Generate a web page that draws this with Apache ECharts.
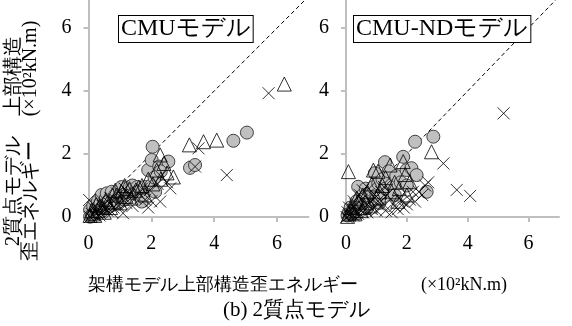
<!DOCTYPE html>
<html>
<head>
<meta charset="utf-8">
<script src="https://cdn.jsdelivr.net/npm/echarts@6.0.0/dist/echarts.min.js"></script>
<style>
  html, body { margin: 0; padding: 0; background: #fff; }
  #chart { width: 572px; height: 326px; }
</style>
</head>
<body>
<div id="chart"></div>
<script>
// 軸目盛
const axisTicks = [0, 2, 4, 6];
const refLine = [[0, 0], [7, 7]];

// CMUモデル（左）
const cmuCircles = [
  [0.05, 0.01], [0.05, 0.22], [0.12, 0.08], [0.15, 0.35], [0.2, 0.12], [0.25, 0.3],
  [0.3, 0.15], [0.3, 0.5], [0.38, 0.45], [0.42, 0.7], [0.45, 0.2], [0.5, 0.3],
  [0.55, 0.6], [0.58, 0.75], [0.65, 0.5], [0.7, 0.35], [0.74, 0.8], [0.8, 0.6],
  [0.85, 0.7], [0.9, 0.55], [0.95, 0.43], [1.0, 0.85], [1.05, 0.95], [1.1, 0.7],
  [1.15, 0.55], [1.2, 0.9], [1.25, 0.8], [1.32, 0.96], [1.4, 1.0], [1.45, 0.75],
  [1.55, 0.95], [1.59, 0.8], [1.69, 0.49], [1.75, 0.7], [1.8, 0.95], [1.9, 1.49],
  [2.0, 1.0], [2.01, 1.81], [2.04, 2.23], [2.1, 1.25], [2.12, 0.8], [2.25, 1.6],
  [2.3, 1.45], [2.54, 1.76], [3.23, 1.56], [3.39, 1.65], [4.61, 2.42], [5.04, 2.68]
];
const cmuTriangles = [
  [0.05, 0.05], [0.1, 0.2], [0.15, 0.1], [0.2, 0.05], [0.25, 0.4], [0.3, 0.2],
  [0.35, 0.35], [0.45, 0.3], [0.5, 0.15], [0.55, 0.55], [0.6, 0.45], [0.7, 0.3],
  [0.8, 0.5], [0.85, 0.85], [0.9, 0.7], [1.0, 0.45], [1.05, 0.8], [1.15, 1.0],
  [1.2, 0.65], [1.3, 0.9], [1.35, 0.6], [1.5, 0.85], [1.6, 0.95], [1.7, 1.0],
  [1.8, 0.7], [1.9, 1.2], [2.05, 1.05], [2.17, 1.49], [2.28, 1.97], [2.3, 1.2],
  [2.4, 1.7], [2.5, 1.4], [2.7, 1.27], [3.21, 2.29], [3.66, 2.39], [4.08, 2.44],
  [6.23, 4.22]
];
const cmuCrosses = [
  [0.02, 0.54], [0.05, 0.0], [0.1, 0.1], [0.15, 0.3], [0.2, 0.05], [0.25, 0.15],
  [0.3, 0.25], [0.35, 0.05], [0.37, 0.12], [0.4, 0.55], [0.45, 0.35], [0.5, 0.4],
  [0.55, 0.25], [0.6, 0.2], [0.65, 0.45], [0.7, 0.6], [0.75, 0.15], [0.8, 0.3],
  [0.85, 0.55], [0.9, 0.75], [0.95, 0.35], [1.0, 0.5], [1.05, 0.7], [1.1, 0.12],
  [1.15, 0.9], [1.2, 0.45], [1.25, 0.8], [1.3, 0.7], [1.4, 0.35], [1.5, 0.6],
  [1.6, 0.75], [1.7, 0.9], [1.8, 0.55], [1.9, 0.3], [1.95, 0.85], [2.0, 0.5],
  [2.2, 1.05], [2.28, 0.49], [2.3, 1.3], [2.5, 1.1], [2.6, 0.91], [3.39, 1.6],
  [3.5, 2.18], [4.4, 1.33], [5.73, 3.93]
];

// CMU-NDモデル（右）
const ndCircles = [
  [0.05, 0.05], [0.1, 0.15], [0.15, 0.3], [0.2, 0.1], [0.25, 0.2], [0.3, 0.3],
  [0.35, 0.5], [0.4, 0.96], [0.45, 0.25], [0.5, 0.4], [0.55, 0.7], [0.6, 0.6],
  [0.65, 0.9], [0.7, 0.3], [0.75, 0.5], [0.8, 0.8], [0.9, 0.95], [0.95, 1.39],
  [1.0, 0.7], [1.06, 1.07], [1.1, 0.45], [1.1, 0.6], [1.2, 1.2], [1.28, 1.74],
  [1.3, 0.9], [1.4, 1.45], [1.5, 1.02], [1.6, 0.7], [1.65, 1.3], [1.8, 1.1],
  [1.88, 1.91], [1.99, 1.49], [2.0, 1.0], [2.15, 1.55], [2.27, 2.39], [2.32, 1.33],
  [2.65, 0.8], [2.87, 2.55]
];
const ndTriangles = [
  [0.05, 0.02], [0.08, 1.44], [0.1, 0.1], [0.15, 0.3], [0.2, 0.2], [0.25, 0.15],
  [0.3, 0.1], [0.35, 0.6], [0.4, 0.5], [0.5, 0.2], [0.55, 0.7], [0.6, 0.3],
  [0.65, 0.45], [0.7, 0.8], [0.8, 0.35], [0.85, 1.05], [0.9, 1.49], [1.0, 0.6],
  [1.05, 1.45], [1.1, 0.8], [1.2, 1.0], [1.3, 1.25], [1.45, 1.65], [1.5, 0.8],
  [1.6, 1.1], [1.7, 0.5], [1.75, 0.9], [1.88, 1.76], [1.95, 1.35], [2.0, 0.7],
  [2.1, 1.12], [2.81, 2.07]
];
const ndCrosses = [
  [0.02, 0.0], [0.05, 0.15], [0.1, 0.05], [0.1, 0.3], [0.15, 0.1], [0.2, 0.25],
  [0.25, 0.05], [0.25, 0.5], [0.3, 0.4], [0.35, 0.2], [0.4, 0.1], [0.45, 0.7],
  [0.5, 0.55], [0.55, 0.15], [0.55, 0.85], [0.6, 0.3], [0.65, 0.45], [0.7, 0.15],
  [0.75, 0.9], [0.8, 0.5], [0.85, 0.25], [0.9, 0.75], [0.95, 0.6], [1.0, 0.2],
  [1.05, 0.4], [1.1, 0.55], [1.15, 0.8], [1.2, 0.35], [1.25, 0.95], [1.3, 0.2],
  [1.35, 0.7], [1.45, 0.55], [1.5, 0.15], [1.6, 0.35], [1.7, 0.25], [1.75, 0.6],
  [1.85, 0.5], [1.9, 0.3], [2.0, 0.4], [2.1, 0.55], [2.2, 0.8], [2.27, 0.49],
  [2.4, 0.8], [2.5, 0.7], [2.6, 1.0], [2.7, 1.1], [3.2, 1.7], [3.64, 0.86],
  [4.08, 0.67], [5.18, 3.29]
];

const serif = "Liberation Serif";
const axisGray = "#bfbfbf";

function makeAxis(gridIndex) {
  return {
    type: "value",
    gridIndex: gridIndex,
    min: 0,
    max: 7,
    interval: 2,
    axisLine: { show: true, lineStyle: { color: axisGray, width: 2 } },
    axisTick: { show: true, length: 5, customValues: axisTicks, lineStyle: { color: axisGray, width: 2 } },
    axisLabel: { customValues: axisTicks, color: "#000", fontFamily: serif, fontSize: 20, margin: 17 },
    splitLine: { show: false },
  };
}

function makeSeries(idx, circles, triangles, crosses) {
  return [
    {
      type: "line", xAxisIndex: idx, yAxisIndex: idx, data: refLine,
      symbol: "none", silent: true, z: 1,
      lineStyle: { color: "#000", width: 1, type: [4, 3] },
    },
    {
      type: "scatter", xAxisIndex: idx, yAxisIndex: idx, data: circles,
      symbol: "circle", symbolSize: 13, z: 2,
      itemStyle: { color: "#c0c0c0", borderColor: "#404040", borderWidth: 1, opacity: 1 },
    },
    {
      type: "scatter", xAxisIndex: idx, yAxisIndex: idx, data: triangles,
      symbol: "triangle", symbolSize: 14, z: 3,
      itemStyle: { color: "rgba(0,0,0,0)", borderColor: "#000", borderWidth: 1 },
    },
    {
      type: "scatter", xAxisIndex: idx, yAxisIndex: idx, data: crosses,
      symbol: "path://M0,0L10,10M10,0L0,10", symbolSize: 12, z: 4,
      itemStyle: { color: "rgba(0,0,0,0)", borderColor: "#000", borderWidth: 1 },
    },
  ];
}

function label(x, y, text, size, align, rotate) {
  return {
    type: "text", x: x, y: y, rotation: rotate ? Math.PI / 2 : 0, z: 10,
    style: {
      text: text, fontSize: size, fontFamily: serif, fill: "#000",
      align: align, verticalAlign: "middle", lineHeight: 17,
    },
  };
}

function boxLabel(left, text) {
  return {
    type: "text", left: left, top: 15, z: 10,
    style: {
      text: text, fontSize: 24, fontFamily: serif, fill: "#000",
      backgroundColor: "#fff", borderColor: "#000", borderWidth: 1, padding: [1, 2, 1, 2],
    },
  };
}

const chart = echarts.init(document.getElementById("chart"));

const option = {
  animation: false,
  backgroundColor: "#fff",
  grid: [
    { left: 88.5, top: -3.5, width: 220, height: 220.5, outerBoundsMode: "none" },
    { left: 346, top: -3.5, width: 213, height: 220.5, outerBoundsMode: "none" },
  ],
  xAxis: [makeAxis(0), makeAxis(1)],
  yAxis: [makeAxis(0), makeAxis(1)],
  series: [
    ...makeSeries(0, cmuCircles, cmuTriangles, cmuCrosses),
    ...makeSeries(1, ndCircles, ndTriangles, ndCrosses),
  ],
  graphic: [
    boxLabel(118, "CMUモデル"),
    boxLabel(353, "CMU-NDモデル"),
    // y軸タイトル（2行・回転）
    label(22, 141, "2質点モデル　上部構造\n歪エネルギー　 (×10²kN.m)", 20, "center", true),
    // x軸タイトル
    label(88, 285, "架構モデル上部構造歪エネルギー", 18, "left", false),
    label(507, 285, "(×10²kN.m)", 18, "right", false),
    label(297, 310, "(b) 2質点モデル", 21, "center", false),
  ],
};

chart.setOption(option);
</script>
</body>
</html>
